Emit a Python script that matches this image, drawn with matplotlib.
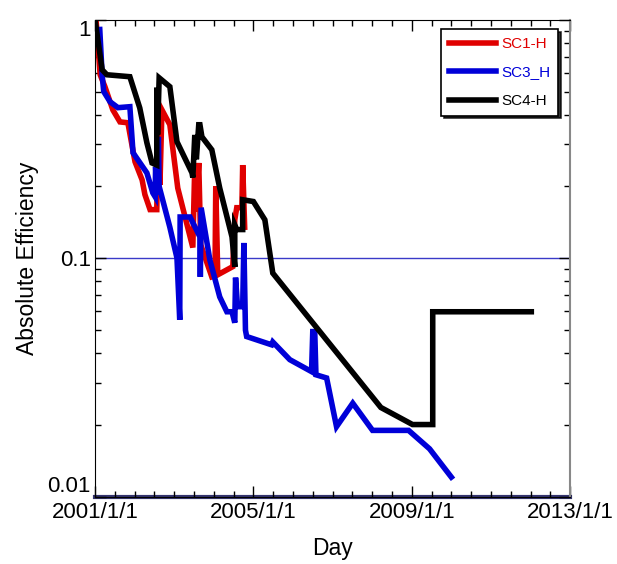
import numpy as np
import matplotlib.pyplot as plt
from matplotlib.ticker import FixedLocator, MultipleLocator, LogLocator, NullFormatter

plt.rcParams['font.family'] = ['Liberation Sans', 'DejaVu Sans']

# time in decimal years
sc1_t = [2001.03, 2001.13, 2001.25, 2001.45, 2001.63, 2001.83, 2002.01, 2002.19, 2002.26,
         2002.39, 2002.56, 2002.59, 2002.64, 2002.69, 2002.89, 2003.09, 2003.47, 2003.52,
         2003.55, 2003.62, 2003.67, 2003.95, 2004.03, 2004.05, 2004.10, 2004.48, 2004.53,
         2004.58, 2004.71, 2004.73, 2004.78]
sc1_v = [0.981, 0.588, 0.524, 0.419, 0.373, 0.370, 0.254, 0.213, 0.185,
         0.160, 0.160, 0.314, 0.203, 0.419, 0.363, 0.197, 0.111, 0.246,
         0.157, 0.251, 0.114, 0.0836, 0.0844, 0.200, 0.0853, 0.0923, 0.145,
         0.163, 0.163, 0.246, 0.135]

sc3_t = [2001.12, 2001.18, 2001.22, 2001.38, 2001.58, 2001.88, 2001.96, 2002.31, 2002.46,
         2002.52, 2002.53, 2002.56, 2002.60, 2002.62, 2002.89, 2003.07, 2003.14, 2003.15,
         2003.40, 2003.65, 2003.66, 2003.68, 2003.90, 2004.15, 2004.33, 2004.46, 2004.53,
         2004.55, 2004.60, 2004.73, 2004.76, 2004.80, 2004.83, 2005.46, 2005.49, 2005.92,
         2006.47, 2006.50, 2006.55, 2006.58, 2006.85, 2007.10, 2007.51, 2008.01, 2008.92,
         2009.45, 2010.00]
sc3_v = [0.91, 0.588, 0.50, 0.453, 0.428, 0.432, 0.277, 0.228, 0.188,
         0.181, 0.242, 0.185, 0.323, 0.20, 0.135, 0.1003, 0.0552, 0.149,
         0.149, 0.123, 0.0836, 0.163, 0.0986, 0.0689, 0.0597, 0.0597, 0.0537,
         0.083, 0.0627, 0.0627, 0.116, 0.050, 0.047, 0.0434, 0.0446, 0.0376,
         0.0335, 0.0493, 0.0493, 0.0325, 0.0315, 0.0197, 0.0247, 0.019, 0.019,
         0.0159, 0.0121]

sc4_t = [2001.00, 2001.18, 2001.30, 2001.88, 2002.13, 2002.31, 2002.44, 2002.56, 2002.56,
         2002.58, 2002.62, 2002.89, 2003.07, 2003.45, 2003.47, 2003.52, 2003.56, 2003.62,
         2003.65, 2003.70, 2003.95, 2004.15, 2004.46, 2004.53, 2004.53, 2004.58, 2004.73,
         2004.73, 2005.00, 2005.29, 2005.49, 2008.22, 2009.02, 2009.53, 2009.53, 2012.02]
sc4_v = [1.0, 0.617, 0.588, 0.577, 0.427, 0.305, 0.251, 0.246, 0.519,
         0.33, 0.571, 0.524, 0.308, 0.228, 0.218, 0.329, 0.26, 0.363,
         0.363, 0.323, 0.285, 0.197, 0.123, 0.092, 0.138, 0.132, 0.132,
         0.176, 0.173, 0.145, 0.0867, 0.0237, 0.0201, 0.0201, 0.0597, 0.0597]

year_ticks = [2001, 2005, 2009, 2013]
year_labels = ['2001/1/1', '2005/1/1', '2009/1/1', '2013/1/1']

fig = plt.figure(figsize=(6.17, 5.64), dpi=100)
ax = fig.add_axes([0.154, 0.119, 0.770, 0.846])

ax.axhline(0.1, color='#3a3ac8', lw=1.0, zorder=1)
ax.axhline(0.01, color='#34346e', lw=3, zorder=1, clip_on=False)

ax.plot(sc1_t, sc1_v, color='#e00000', lw=4, label='SC1-H', solid_joinstyle='miter')
ax.plot(sc3_t, sc3_v, color='#0000d8', lw=4, label='SC3_H', solid_joinstyle='miter')
ax.plot(sc4_t, sc4_v, color='black', lw=4, label='SC4-H', solid_joinstyle='miter')

ax.set_yscale('log')
ax.set_ylim(0.01, 1)
ax.set_xlim(2001, 2013)

ax.xaxis.set_major_locator(FixedLocator(year_ticks))
ax.set_xticklabels(year_labels)
ax.xaxis.set_minor_locator(MultipleLocator(0.5))
ax.yaxis.set_major_locator(FixedLocator([0.01, 0.1, 1]))
ax.set_yticklabels(['0.01', '0.1', '1'])
ax.yaxis.set_minor_locator(LogLocator(base=10, subs=np.arange(2, 10)))
ax.yaxis.set_minor_formatter(NullFormatter())

ax.tick_params(which='both', direction='in', top=True, right=True, labelsize=16, width=1)
ax.tick_params(which='major', length=8)
ax.tick_params(which='minor', length=4)
ax.tick_params(axis='x', pad=4)
ax.tick_params(axis='y', pad=3)

# keep end labels inside the axis span like the original
ylabs = ax.get_yticklabels()
ylabs[0].set_va('bottom')
ylabs[2].set_va('top')

ax.spines['right'].set_color('#888888')
ax.spines['right'].set_linewidth(1.5)

ax.set_xlabel('Day', fontsize=16.5, labelpad=10)
ax.set_ylabel('Absolute Efficiency', fontsize=16.5, labelpad=6)

leg = ax.legend(loc='upper right', bbox_to_anchor=(0.974, 0.98), fontsize=11,
                fancybox=False, framealpha=1, edgecolor='black', handlelength=3.1,
                handletextpad=0.3, labelspacing=0.95, borderpad=0.5, borderaxespad=0,
                shadow={'color': 'black', 'alpha': 0.8})
leg.get_frame().set_linewidth(1.2)
for txt, ln in zip(leg.get_texts(), leg.get_lines()):
    txt.set_color(ln.get_color())

fig.savefig('out.png', dpi=100)
